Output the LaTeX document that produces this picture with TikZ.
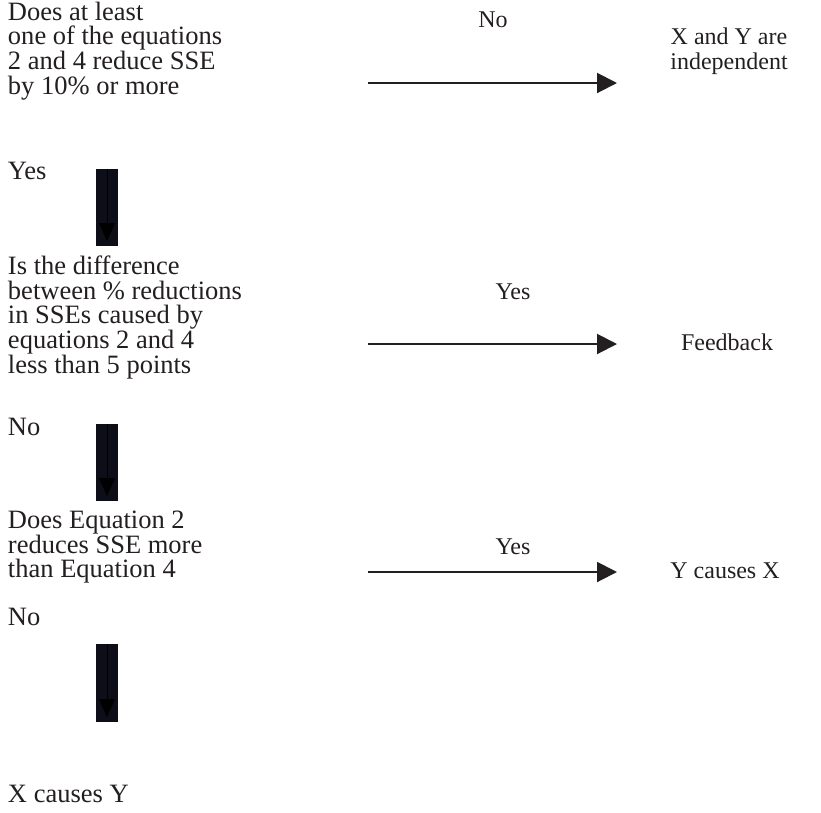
\documentclass[tikz,border=0pt]{standalone}
\usepackage{fontspec}
\setmainfont{Liberation Serif}
\usetikzlibrary{arrows.meta}
\definecolor{ink}{HTML}{231F20}
\definecolor{barfill}{HTML}{0E0E18}
\begin{document}
\begin{tikzpicture}[x=1pt,y=-1pt,
  txt/.style={inner sep=0pt, outer sep=0pt, align=left, text=ink,
    font=\fontsize{26.5}{24.6}\selectfont},
  ctxt/.style={inner sep=0pt, outer sep=0pt, align=center, text=ink,
    font=\fontsize{24}{24.4}\selectfont},
  harrow/.style={draw=ink, line width=2pt, -{Triangle[length=20pt,width=20pt]}},
  bar/.style={fill=barfill, draw=none},
  barrow/.style={draw=black, line width=0.8pt, -{Triangle[length=18pt,width=16pt]}}]
\useasboundingbox (0,0) rectangle (821,812);

% left column
\node[txt, anchor=north west] (q1) at (8,2) {Does at least\\one of the equations\\2 and 4 reduce SSE\\by 10\% or more};
\node[txt, anchor=base west] (y1) at (8,179) {Yes};
\node[txt, anchor=north west] (q2) at (8,256) {Is the difference\\between \% reductions\\in SSEs caused by\\equations 2 and 4\\less than 5 points};
\node[txt, anchor=base west] (n2) at (8,435) {No};
\node[txt, anchor=north west] (q3) at (8,511) {Does Equation 2\\reduces SSE more\\than Equation 4};
\node[txt, anchor=base west] (n3) at (8,625) {No};
\node[txt, anchor=base west] (r4) at (8,802) {X causes Y};

% vertical bars
\foreach \i/\t/\b in {1/169/246, 2/424/501, 3/644/722}{
  \path[bar] (96,\t) rectangle (118,\b);
  \coordinate (vt\i) at (107,\t);
  \coordinate (vb\i) at (107,\b-5);
  \draw[barrow] (vt\i) -- (vb\i);
}

% right column
\node[ctxt, anchor=north] (r1) at (729,28) {X and Y are\\independent};
\node[ctxt, anchor=base] (r2) at (727,350) {Feedback};
\node[ctxt, anchor=base] (r3) at (725,578) {Y causes X};

% horizontal arrows
\coordinate (a1s) at (368,83); \coordinate (a1e) at (617,83);
\coordinate (a2s) at (368,344); \coordinate (a2e) at (617,344);
\coordinate (a3s) at (368,572); \coordinate (a3e) at (617,572);
\draw[harrow] (a1s) -- (a1e);
\draw[harrow] (a2s) -- (a2e);
\draw[harrow] (a3s) -- (a3e);
\node[ctxt, anchor=base] (l1) at (493,27) {No};
\node[ctxt, anchor=base] (l2) at (513,299) {Yes};
\node[ctxt, anchor=base] (l3) at (513,554) {Yes};
\end{tikzpicture}
\end{document}
